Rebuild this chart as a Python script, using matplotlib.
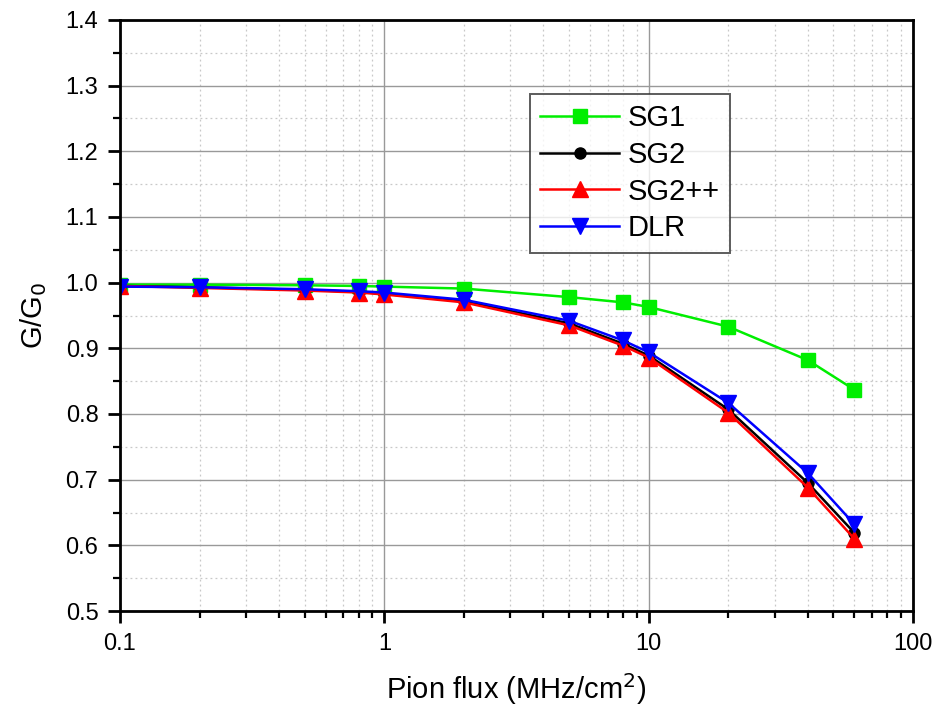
import matplotlib
matplotlib.use("Agg")
import matplotlib.pyplot as plt
from matplotlib.ticker import LogLocator, NullFormatter, FormatStrFormatter, MultipleLocator

plt.rcParams['font.family'] = ['Liberation Sans', 'DejaVu Sans']

flux = [0.1, 0.2, 0.5, 0.8, 1, 2, 5, 8, 10, 20, 40, 60]
sg1 = [0.997, 0.997, 0.996, 0.995, 0.994, 0.991, 0.978, 0.970, 0.963, 0.933, 0.882, 0.837]
sg2 = [0.995, 0.993, 0.989, 0.986, 0.983, 0.972, 0.938, 0.907, 0.889, 0.807, 0.695, 0.619]
sg2pp = [0.995, 0.992, 0.988, 0.985, 0.982, 0.970, 0.935, 0.904, 0.886, 0.802, 0.688, 0.610]
dlr = [0.994, 0.993, 0.990, 0.987, 0.985, 0.974, 0.942, 0.912, 0.894, 0.817, 0.710, 0.632]

xticks = [0.1, 1, 10, 100]
xticklabels = ['0.1', '1', '10', '100']

fig = plt.figure(figsize=(9.4, 7.09), dpi=100)
ax = fig.add_axes([120/940, 1-611/709, (913-120)/940, (611-20)/709])

ax.plot(flux, sg1, color='#00ee00', lw=1.8, marker='s', ms=10, label='SG1')
ax.plot(flux, sg2, color='black', lw=1.8, marker='o', ms=8, label='SG2')
ax.plot(flux, sg2pp, color='red', lw=1.8, marker='^', ms=11, label='SG2++')
ax.plot(flux, dlr, color='blue', lw=1.8, marker='v', ms=11, label='DLR')

ax.set_xscale('log')
ax.set_xlim(0.1, 100)
ax.set_ylim(0.5, 1.4)
ax.set_xticks(xticks)
ax.set_xticklabels(xticklabels)
ax.xaxis.set_minor_locator(LogLocator(base=10, subs=range(2, 10)))
ax.xaxis.set_minor_formatter(NullFormatter())
ax.yaxis.set_major_locator(MultipleLocator(0.1))
ax.yaxis.set_minor_locator(MultipleLocator(0.05))
ax.yaxis.set_major_formatter(FormatStrFormatter('%.1f'))

ax.grid(which='major', color='#999999', lw=1.0, ls='-')
ax.grid(which='minor', color='#c8c8c8', lw=0.9, ls=(0, (1.5, 2.5)))
ax.set_axisbelow(True)

for s in ax.spines.values():
    s.set_linewidth(2.0)
ax.tick_params(which='major', direction='out', length=8.5, width=2, labelsize=17, pad=7,
               top=False, right=False)
ax.tick_params(which='minor', direction='out', length=5, width=1.6, top=False, right=False)

ax.set_xlabel('Pion flux (MHz/cm$^2$)', fontsize=21, labelpad=12)
ax.set_ylabel('G/G$_0$', fontsize=21, labelpad=12)

leg = ax.legend(loc='upper left', bbox_to_anchor=((530-120)/793, (611-94)/591),
                fontsize=21, frameon=True, fancybox=False, edgecolor='#333333',
                handlelength=2.7, handletextpad=0.3, labelspacing=0.3,
                borderpad=0.35, borderaxespad=0)
leg.get_frame().set_linewidth(1.4)

fig.savefig('out.png', dpi=100, facecolor='white')
